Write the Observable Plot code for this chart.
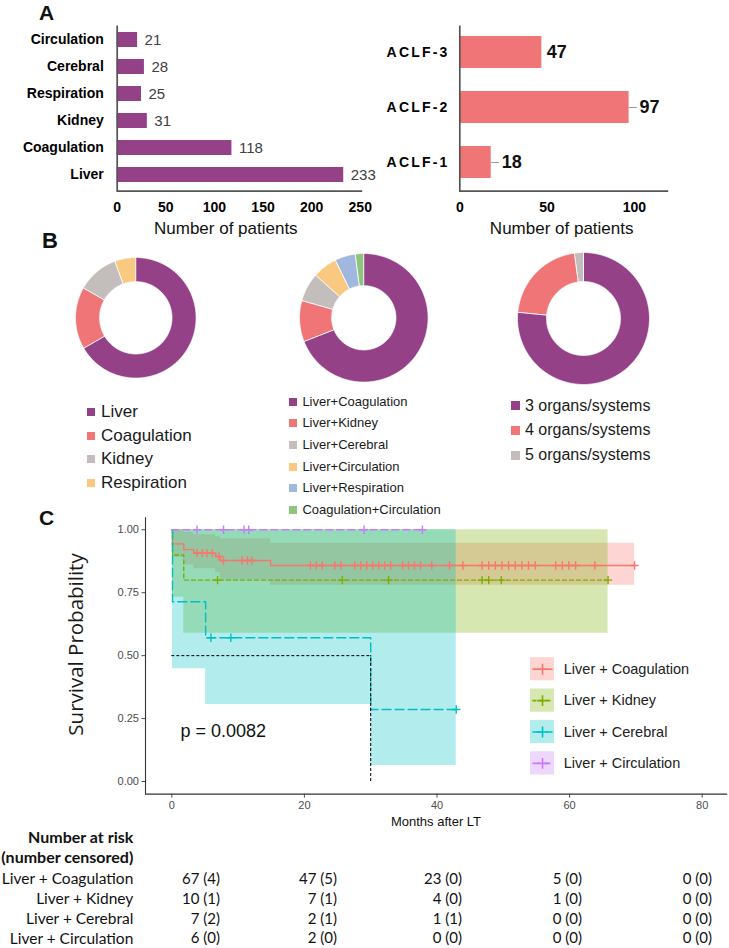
<!DOCTYPE html>
<html><head><meta charset="utf-8">
<script src="https://cdn.jsdelivr.net/npm/d3@7"></script>
<script src="https://cdn.jsdelivr.net/npm/@observablehq/plot@0.6"></script>
<style>
body{margin:0;background:#fff;}
#fig{position:relative;width:729px;height:948px;overflow:hidden;background:#fff;}
#fig svg{position:absolute;overflow:visible;}
</style></head><body><div id="fig"></div>
<script>
// ---------------- DATA ----------------
// Panel A: organ failures and ACLF grades
const organCategories = ["Circulation", "Cerebral", "Respiration", "Kidney", "Coagulation", "Liver"];
const organCounts = [21, 28, 25, 31, 118, 233];
const organTicks = [0, 50, 100, 150, 200, 250];
const aclfGrades = ["ACLF-3", "ACLF-2", "ACLF-1"];
const aclfCounts = [47, 97, 18];
const aclfTicks = [0, 50, 100];

// Panel B: composition of each ACLF grade
const aclf1Organs = ["Liver", "Coagulation", "Kidney", "Respiration"];
const aclf1Counts = [12, 3, 2, 1];
const aclf2Pairs = ["Liver+Coagulation", "Liver+Kidney", "Liver+Cerebral", "Liver+Circulation", "Liver+Respiration", "Coagulation+Circulation"];
const aclf2Counts = [67, 10, 7, 6, 5, 2];
const aclf3Systems = ["3 organs/systems", "4 organs/systems", "5 organs/systems"];
const aclf3Counts = [36, 10, 1];

// Panel C: Kaplan-Meier (months after LT)
const strata = ["Liver + Coagulation", "Liver + Kidney", "Liver + Cerebral", "Liver + Circulation"];
const coagTime  = [0, 0.1, 1.8, 3.3, 6.6, 7.3, 14.9, 69.8];
const coagSurv  = [1, 0.944, 0.921, 0.907, 0.894, 0.878, 0.858, 0.858];
const coagLower = [1, 0.89, 0.86, 0.845, 0.83, 0.80, 0.78, 0.78];
const coagUpper = [1, 1, 0.99, 0.98, 0.972, 0.964, 0.947, 0.947];
const coagCensor = [3.8, 4.6, 5.3, 6.1, 7.1, 7.8, 10.6, 11.4, 12.1, 20.9, 21.8, 22.7, 24.6, 25.5, 27.6, 28.5, 29.4, 30.3, 31.2, 32.1, 33.0, 34.8, 35.7, 36.6, 37.5, 39.2, 41.9, 43.9, 46.8, 47.8, 48.8, 49.8, 50.8, 51.8, 52.8, 53.8, 54.8, 57.9, 58.9, 59.9, 60.9, 63.8, 69.8];
const kidneyTime  = [0, 0.1, 1.8, 65.8];
const kidneySurv  = [1, 0.9, 0.8, 0.8];
const kidneyLower = [1, 0.732, 0.589, 0.589];
const kidneyUpper = [1, 1, 1, 1];
const kidneyCensor = [6.9, 25.7, 32.7, 46.8, 47.8, 49.7, 65.8];
const cerebralTime  = [0, 0.1, 5.1, 30.0, 42.9];
const cerebralSurv  = [1, 0.714, 0.571, 0.286, 0.286];
const cerebralLower = [1, 0.448, 0.306, 0.064, 0.064];
const cerebralUpper = [1, 1, 1, 1, 1];
const cerebralCensor = [5.9, 8.9, 42.9];
const circTime  = [0, 37.8];
const circSurv  = [1, 1];
const circCensor = [3.8, 7.8, 10.9, 11.6, 29.0, 37.8];
const kmTicksX = [0, 20, 40, 60, 80];
const kmTicksY = [0, 0.25, 0.5, 0.75, 1];
const pValueText = "p = 0.0082";
const pValueAt = {t: 1.3, s: 0.2};

// Number at risk (number censored)
const riskTimes = [0, 20, 40, 60, 80];
const riskCoagN = [67, 47, 23, 5, 0],     riskCoagC = [4, 5, 0, 0, 0];
const riskKidneyN = [10, 7, 4, 1, 0],     riskKidneyC = [1, 1, 0, 0, 0];
const riskCerebralN = [7, 2, 1, 0, 0],    riskCerebralC = [2, 1, 1, 0, 0];
const riskCircN = [6, 2, 0, 0, 0],        riskCircC = [0, 0, 0, 0, 0];

// ---------------- STYLE ----------------
const FONT = "'Liberation Sans', Arial, Helvetica, sans-serif";
const PURPLE = "#944187", CORAL = "#f07577";
const pieColors = ["#944187", "#f07577", "#c3bebb", "#f9c881", "#a1b8de", "#8fc47c"];
const kmColors = ["#F8766D", "#7CAE00", "#00BFC4", "#C77CFF"];
const kmDash = [null, "4,3", "9,4", "7,4"];

const fig = document.getElementById("fig");
function put(node, left, top) { node.style.left = left + "px"; node.style.top = top + "px"; fig.appendChild(node); return node; }
function txt(text, {x, y, anchor = "start", size = 14, weight = "normal", family = FONT, color = "#111", lh}) {
  const L = lh || Math.round(size * 1.4);
  const d = document.createElement("div");
  d.textContent = text;
  Object.assign(d.style, {position: "absolute", top: (y - L / 2) + "px", height: L + "px", lineHeight: L + "px",
    fontSize: size + "px", fontWeight: weight, fontFamily: family, color, whiteSpace: "nowrap"});
  if (anchor === "start") d.style.left = x + "px";
  else if (anchor === "end") { d.style.left = (x - 500) + "px"; d.style.width = "500px"; d.style.textAlign = "right"; }
  else { d.style.left = (x - 300) + "px"; d.style.width = "600px"; d.style.textAlign = "center"; }
  fig.appendChild(d); return d;
}
function square(x, y, s, color) {
  const d = document.createElement("div");
  Object.assign(d.style, {position: "absolute", left: x + "px", top: (y - s / 2) + "px", width: s + "px", height: s + "px", background: color});
  fig.appendChild(d);
}
const lDash = (w, h, ml, mr, mt, mb) => { const W = w - ml - mr, H = h - mt - mb; return `0 ${W + H} ${W + H}`; };

// ---------------- PANEL A (left) ----------------
const organData = organCategories.map((c, i) => ({cat: c, n: organCounts[i]}));
const A1 = {w: 370, h: 240, ml: 116.7, mr: 8.3, mt: 25, mb: 49.3};
put(Plot.plot({
  width: A1.w, height: A1.h, marginLeft: A1.ml, marginRight: A1.mr, marginTop: A1.mt, marginBottom: A1.mb,
  style: {fontFamily: FONT, color: "#000", background: "transparent"},
  x: {domain: [0, 252]},
  y: {domain: organCategories, range: [18.6, 196], padding: 0.43},
  marks: [
    Plot.barX(organData, {x: "n", y: "cat", fill: PURPLE}),
    Plot.text(organData, {x: "n", y: "cat", text: d => String(d.n), textAnchor: "start", dx: 7, fontSize: 15, fill: "#404040"}),
    Plot.frame({stroke: "#555", strokeWidth: 1.7, strokeDasharray: lDash(A1.w, A1.h, A1.ml, A1.mr, A1.mt, A1.mb)}),
    Plot.axisX({ticks: organTicks, tickSize: 0, tickPadding: 11, fontSize: 14, fontWeight: "bold", label: null}),
    Plot.axisY({tickSize: 0, tickPadding: 13.4, fontSize: 14, fontWeight: "bold", label: null})
  ]
}), 0, 0);

// ---------------- PANEL A (right) ----------------
const aclfData = aclfGrades.map((g, i) => ({grade: g, n: aclfCounts[i]}));
const A2 = {w: 359, h: 240, ml: 89.3, mr: 61.3, mt: 25, mb: 49.3};
const withLeader = aclfData.filter(d => d.grade !== "ACLF-3");
const noLeader = aclfData.filter(d => d.grade === "ACLF-3");
const svgA2 = Plot.plot({
  width: A2.w, height: A2.h, marginLeft: A2.ml, marginRight: A2.mr, marginTop: A2.mt, marginBottom: A2.mb,
  style: {fontFamily: FONT, color: "#000", background: "transparent"},
  x: {domain: [0, 119.4]},
  y: {domain: aclfGrades, range: [13, 201.8], padding: 0.42},
  marks: [
    Plot.barX(aclfData, {x: "n", y: "grade", fill: CORAL}),
    Plot.link(withLeader, {x1: "n", x2: d => d.n + 4.4, y1: "grade", y2: "grade", stroke: "#9a9a9a", strokeWidth: 1}),
    Plot.text(noLeader, {x: "n", y: "grade", text: d => String(d.n), textAnchor: "start", dx: 5, fontSize: 18, fontWeight: "bold", fill: "#111"}),
    Plot.text(withLeader, {x: "n", y: "grade", text: d => String(d.n), textAnchor: "start", dx: 10.5, fontSize: 18, fontWeight: "bold", fill: "#111"}),
    Plot.frame({stroke: "#555", strokeWidth: 1.7, strokeDasharray: lDash(A2.w, A2.h, A2.ml, A2.mr, A2.mt, A2.mb)}),
    Plot.axisX({ticks: aclfTicks, tickSize: 0, tickPadding: 11, fontSize: 14, fontWeight: "bold", label: null}),
    Plot.axisY({tickSize: 0, tickPadding: 10.2, fontSize: 14, fontWeight: "bold", label: null})
  ]
});
d3.select(svgA2).selectAll('g[aria-label="y-axis tick label"] text').style("letter-spacing", "2.2px");
put(svgA2, 370, 0);

txt("A", {x: 39, y: 13, size: 21, weight: "bold", color: "#111", lh: 24});
txt("Number of patients", {x: 225.8, y: 229, anchor: "middle", size: 17, color: "#111"});
txt("Number of patients", {x: 561.7, y: 229, anchor: "middle", size: 17, color: "#111"});

// ---------------- PANEL B (donuts) ----------------
function ring(labels, values, inner) {
  const arcs = d3.pie().sort(null).value(d => d)(values);
  const pts = [];
  arcs.forEach((a, i) => {
    const n = Math.max(2, Math.ceil((a.endAngle - a.startAngle) / 0.01));
    for (let k = 0; k <= n; k++) { const t = a.startAngle + (a.endAngle - a.startAngle) * k / n; pts.push({key: labels[i], color: pieColors[i], x: Math.sin(t), y: Math.cos(t)}); }
    for (let k = n; k >= 0; k--) { const t = a.startAngle + (a.endAngle - a.startAngle) * k / n; pts.push({key: labels[i], color: pieColors[i], x: inner * Math.sin(t), y: inner * Math.cos(t)}); }
  });
  return pts;
}
function donut(labels, values, cx, cy, R, inner) {
  const svg = Plot.plot({
    width: 2 * R + 2, height: 2 * R + 2, margin: 1,
    style: {background: "transparent"},
    x: {domain: [-1, 1], axis: null}, y: {domain: [-1, 1], axis: null},
    color: {type: "identity"},
    marks: [Plot.line(ring(labels, values, inner), {x: "x", y: "y", z: "key", fill: "color", stroke: "#fff", strokeWidth: 0.8, curve: "linear-closed"})]
  });
  put(svg, cx - R - 1, cy - R - 1);
}
donut(aclf1Organs, aclf1Counts, 135.5, 317, 60.3, 0.6);
donut(aclf2Pairs, aclf2Counts, 363, 317.2, 64.3, 0.5);
donut(aclf3Systems, aclf3Counts, 582.7, 318, 66, 0.56);

txt("B", {x: 42, y: 241, size: 22, weight: "bold", color: "#111", lh: 22});
aclf1Organs.forEach((k, i) => { const y = 412.3 + i * 23.5; square(87.2, y, 8, pieColors[i]); txt(k, {x: 101, y, size: 17, color: "#1a1a1a"}); });
aclf2Pairs.forEach((k, i) => { const y = 401.7 + i * 21.67; square(289.4, y, 8, pieColors[i]); txt(k, {x: 302.4, y, size: 13, color: "#1a1a1a"}); });
aclf3Systems.forEach((k, i) => { const y = 405.7 + i * 24.65; square(511, y, 9, pieColors[i]); txt(k, {x: 525, y, size: 16, color: "#1a1a1a"}); });

// ---------------- PANEL C (Kaplan-Meier) ----------------
const zip = (name, t, s, lo, hi) => t.map((ti, i) => ({strata: name, t: ti, s: s[i], lo: lo ? lo[i] : s[i], hi: hi ? hi[i] : s[i]}));
const kmSets = [
  zip(strata[0], coagTime, coagSurv, coagLower, coagUpper),
  zip(strata[1], kidneyTime, kidneySurv, kidneyLower, kidneyUpper),
  zip(strata[2], cerebralTime, cerebralSurv, cerebralLower, cerebralUpper),
  zip(strata[3], circTime, circSurv, null, null)
];
const censorSets = [coagCensor, kidneyCensor, cerebralCensor, circCensor].map((cs, k) =>
  cs.map(t => { const rows = kmSets[k].filter(r => r.t <= t); return {t, s: rows[rows.length - 1].s}; }));
const medianRow = kmSets[2].find(r => r.s <= 0.5);
const medianTime = medianRow.t;

const C = {w: 729, h: 330, ml: 145, mr: 2.3, mt: 16.7, mb: 36.4};
const kmMarks = [];
kmSets.forEach((rows, k) => { if (rows.some(r => r.lo !== r.hi)) kmMarks.push(Plot.areaY(rows, {x: "t", y1: "lo", y2: "hi", curve: "step-after", fill: kmColors[k], fillOpacity: 0.3})); });
kmSets.forEach((rows, k) => kmMarks.push(Plot.line(rows, {x: "t", y: "s", curve: "step-after", stroke: kmColors[k], strokeWidth: 1.4, strokeDasharray: kmDash[k]})));
censorSets.forEach((rows, k) => kmMarks.push(Plot.dot(rows, {x: "t", y: "s", symbol: "plus", r: 2.8, stroke: kmColors[k], strokeWidth: 1.4})));
kmMarks.push(
  Plot.ruleY([0.5], {x1: 0, x2: medianTime, stroke: "#000", strokeWidth: 1, strokeDasharray: "3,2"}),
  Plot.ruleX([medianTime], {y1: 0, y2: 0.5, stroke: "#000", strokeWidth: 1, strokeDasharray: "3,2"}),
  Plot.text([pValueAt], {x: "t", y: "s", text: () => pValueText, textAnchor: "start", fontSize: 18, fill: "#111"}),
  Plot.frame({stroke: "#333", strokeWidth: 1.1, strokeDasharray: lDash(C.w, C.h, C.ml, C.mr, C.mt, C.mb)}),
  Plot.axisX({ticks: kmTicksX, tickSize: 4, tickPadding: 3, fontSize: 11, color: "#4d4d4d", label: null}),
  Plot.axisY({ticks: kmTicksY, tickFormat: d3.format(".2f"), tickSize: 3.5, tickPadding: 3, fontSize: 11, color: "#4d4d4d", label: null})
);
put(Plot.plot({
  width: C.w, height: C.h, marginLeft: C.ml, marginRight: C.mr, marginTop: C.mt, marginBottom: C.mb,
  style: {fontFamily: FONT, color: "#000", background: "transparent"},
  x: {domain: [-3.97, 83.77]}, y: {domain: [-0.05, 1.05]},
  marks: kmMarks
}), 0, 500);

// KM legend
const keyData = strata.map((name, i) => ({name, i, color: kmColors[i]}));
const legendMarks = [
  Plot.rect(keyData, {x1: 0, x2: 1, y1: d => d.i - 0.37, y2: d => d.i + 0.37, fill: "color", fillOpacity: 0.3})
];
keyData.forEach((d, k) => legendMarks.push(Plot.link([d], {x1: 0.08, x2: 0.92, y1: "i", y2: "i", stroke: "color", strokeWidth: 1.6, strokeDasharray: kmDash[k]})));
legendMarks.push(
  Plot.dot(keyData, {x: 0.5, y: "i", symbol: "plus", r: 3.6, stroke: "color", strokeWidth: 1.6}),
  Plot.text(keyData, {x: 1, y: "i", text: "name", textAnchor: "start", dx: 9.3, fontSize: 14.5, fill: "#222"})
);
put(Plot.plot({
  width: 200, height: 126, margin: 0,
  style: {fontFamily: FONT, background: "transparent"},
  x: {domain: [0, 1], range: [3, 27], axis: null},
  y: {domain: [-0.5, 3.5], range: [0, 125.6], axis: null},
  color: {type: "identity"},
  marks: legendMarks
}), 527, 652.6);

txt("C", {x: 39, y: 517.5, size: 21, weight: "bold", color: "#111", lh: 21});
const yTitle = txt("Survival Probability", {x: 75, y: 644, anchor: "middle", size: 20.5, family: "'Open Sans', sans-serif", color: "#1a1a1a"});
yTitle.style.transform = "rotate(-90deg)";
txt("Months after LT", {x: 436, y: 821.7, anchor: "middle", size: 13, color: "#111"});

// Risk table
const LATO = "Lato, 'Open Sans', sans-serif";
txt("Number at risk", {x: 133.3, y: 836.7, anchor: "end", size: 16, weight: "bold", family: LATO});
txt("(number censored)", {x: 133.3, y: 856.7, anchor: "end", size: 16, weight: "bold", family: LATO});
const riskN = [riskCoagN, riskKidneyN, riskCerebralN, riskCircN];
const riskC = [riskCoagC, riskKidneyC, riskCerebralC, riskCircC];
const colRight = [220, 337, 462, 582, 712];
const rowY = [878, 898.3, 918, 937.5];
strata.forEach((s, r) => {
  txt(s, {x: 133.3, y: rowY[r], anchor: "end", size: 15.5, family: LATO});
  riskTimes.forEach((t, c) => txt(`${riskN[r][c]} (${riskC[r][c]})`, {x: colRight[c], y: rowY[r], anchor: "end", size: 15, family: LATO}));
});
</script></body></html>
